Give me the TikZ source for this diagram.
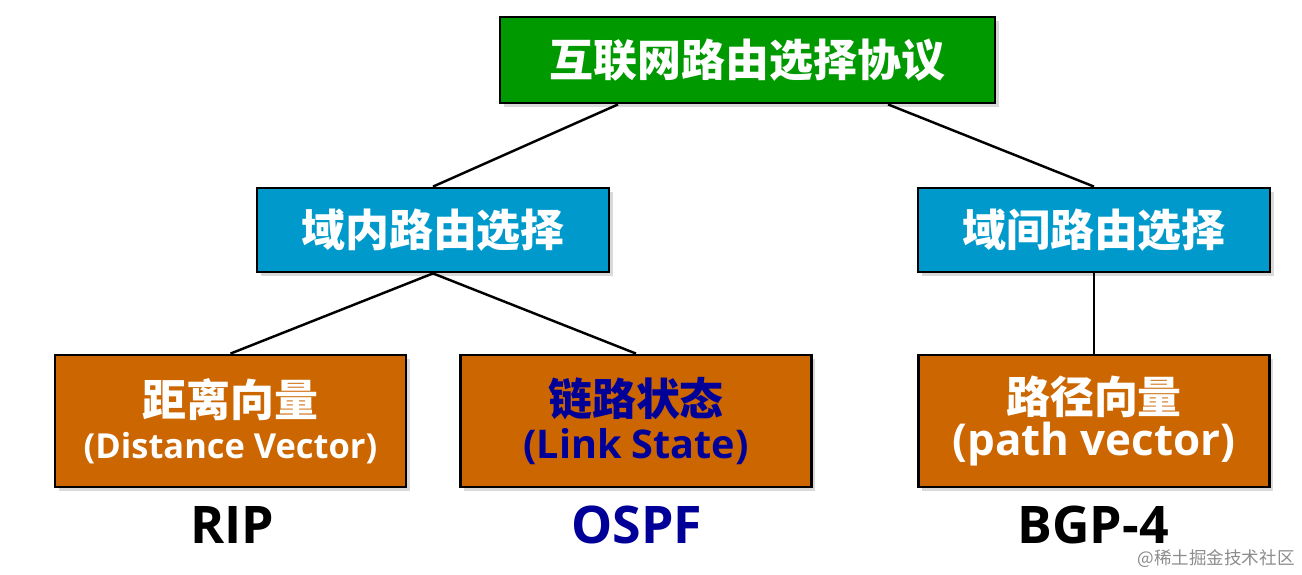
\documentclass[tikz,border=0pt]{standalone}
\usepackage{fontspec}
\setmainfont{Open Sans}
\newfontfamily\cjk{Noto Sans CJK SC}
\usetikzlibrary{shadows}
\definecolor{netgreen}{RGB}{0,153,0}
\definecolor{domblue}{RGB}{0,153,204}
\definecolor{algorange}{RGB}{204,102,0}
\definecolor{ospfblue}{RGB}{0,0,153}
\begin{document}
\begin{tikzpicture}[
  boxed/.style={draw=black, line width=1.6pt, inner sep=0pt, align=center, text=white,
    drop shadow={shadow xshift=2pt, shadow yshift=-2pt, opacity=0.3},
    font=\fontsize{25}{24}\selectfont\bfseries},
  topbox/.style={boxed, fill=netgreen, minimum width=9.9cm, minimum height=1.72cm},
  dombox/.style={boxed, fill=domblue, minimum width=7.04cm, minimum height=1.68cm},
  algbox/.style={boxed, fill=algorange, minimum width=7.02cm, minimum height=2.64cm},
  proto/.style={inner sep=0pt, font=\fontsize{29.5}{30}\selectfont\bfseries},
  link/.style={line width=1.4pt}]
  \useasboundingbox (0,0) rectangle (26.04,11.48);
  \node[topbox] (top) at (14.95,10.28) {\cjk 互联网路由选择协议};
  \node[dombox] (intra) at (8.66,6.88) {\cjk 域内路由选择};
  \node[dombox] (inter) at (21.88,6.88) {\cjk 域间路由选择};
  \node[algbox] (dv) at (4.61,3.06) {{\cjk 距离向量}\\{\fontsize{19.6}{24}\selectfont (Distance Vector)}};
  \node[algbox, text=ospfblue] (ls) at (12.72,3.06) {{\cjk 链路状态}\\{\fontsize{22.5}{24}\selectfont (Link State)}};
  \node[algbox] (pv) at (21.88,3.06) {{\cjk 路径向量}\\{\fontsize{25}{24}\selectfont (path vector)}};
  \draw[link] ([xshift=-2.59cm]top.south) -- (intra.north); \draw[link] ([xshift=2.81cm]top.south) -- (inter.north);
  \draw[link] (intra.south) -- (dv.north); \draw[link] (intra.south) -- (ls.north);
  \draw[link] (inter.south) -- (pv.north);
  \node[proto] (rip) at (4.64,0.98) {RIP};
  \node[proto, text=ospfblue] (ospf) at (12.74,0.98) {OSPF};
  \node[proto] (bgp) at (21.86,0.98) {BGP-4};
  \node[anchor=east, inner sep=0pt, text=black!45, font=\cjk\fontsize{10}{10}\selectfont] (mark) at (25.9,0.3) {@稀土掘金技术社区};
\end{tikzpicture}
\end{document}
